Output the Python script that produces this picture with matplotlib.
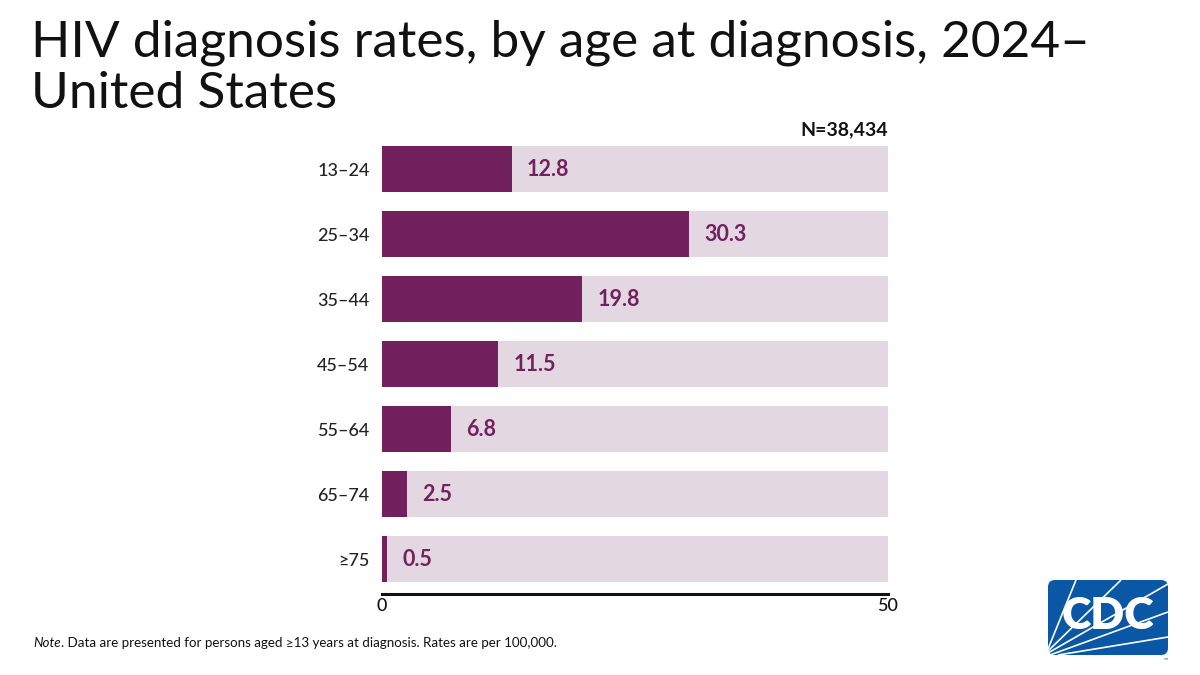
import matplotlib
matplotlib.use("Agg")
import matplotlib.pyplot as plt
from matplotlib.patches import FancyBboxPatch
import numpy as np

plt.rcParams['font.family'] = ['Lato', 'DejaVu Sans']

categories = ["13–24", "25–34", "35–44", "45–54", "55–64", "65–74", "≥75"]
rates = [12.8, 30.3, 19.8, 11.5, 6.8, 2.5, 0.5]
labels = ["12.8", "30.3", "19.8", "11.5", "6.8", "2.5", "0.5"]
xmax = 50
xticks = [0, 50]
total_label = "N=38,434"

bar_color = "#72215E"
bg_color = "#E3D8E1"

fig = plt.figure(figsize=(12, 6.75), dpi=100)

# Title
title_kw = dict(fontsize=37, color="#111111", ha="left", va="baseline")
fig.text(31/1200, 1 - 57/675, "HIV diagnosis rates, by age at diagnosis, 2024–", **title_kw)
fig.text(31/1200, 1 - 108/675, "United States", **title_kw)

ax = fig.add_axes([382/1200, 1 - 594/675, (888 - 382)/1200, (594 - 136.5)/675])
y = np.arange(len(categories))
ax.barh(y, [xmax]*len(categories), height=0.72, color=bg_color, zorder=1)
ax.barh(y, rates, height=0.72, color=bar_color, zorder=2)
for yi, v, lab in zip(y, rates, labels):
    ax.annotate(lab, (v, yi), xytext=(11, 0), textcoords="offset points",
                ha="left", va="center", fontsize=15.5, fontweight="bold",
                color=bar_color, zorder=3)

ax.set_xlim(0, xmax)
ax.set_ylim(len(categories) - 0.5 + 2.5/65, -0.5)
ax.set_yticks(y)
ax.set_yticklabels(categories, fontsize=13, color="#222222", fontweight="medium")
ax.set_xticks(xticks)
ax.set_xticklabels([str(t) for t in xticks], fontsize=13, color="#111111",
                   fontweight="medium")
ax.tick_params(axis="both", length=0)
ax.tick_params(axis="y", pad=9)
ax.tick_params(axis="x", pad=3)
for s in ["top", "right", "left"]:
    ax.spines[s].set_visible(False)
ax.spines["bottom"].set_linewidth(2.2)
ax.spines["bottom"].set_color("#111111")

fig.text(888/1200, 1 - 135/675, total_label, fontsize=14, fontweight="bold",
         color="#111111", ha="right", va="baseline")

# Note
note_size = 9.6
note = fig.text(33/1200, 1 - 647/675, "Note", fontsize=note_size, style="italic",
                color="#111111", ha="left", va="baseline")
fig.canvas.draw()
bb = note.get_window_extent()
fig.text(bb.x1/1200, 1 - 647/675,
         ". Data are presented for persons aged ≥13 years at diagnosis. Rates are per 100,000.",
         fontsize=note_size, color="#111111", ha="left", va="baseline")

# CDC logo
lax = fig.add_axes([1046/1200, 1 - 657/675, 124/1200, 79/675])
lax.set_xlim(0, 124)
lax.set_ylim(0, 79)
lax.axis("off")
lax.add_patch(FancyBboxPatch((2, 2), 120, 75, boxstyle="round,pad=0,rounding_size=7",
                             facecolor="#0A57A5", edgecolor="none"))
for (x0, y0, x1, y1) in [(2, 8, 30, 77), (2, 6, 75, 77), (2, 4, 122, 73),
                         (4, 2, 122, 45), (12, 2, 122, 20)]:
    lax.plot([x0, x1], [y0, y1], color="white", lw=1.2, solid_capstyle="butt")
lax.text(62, 41, "CDC", fontsize=32, fontweight="heavy", color="white",
         ha="center", va="center", family=["Lato", "DejaVu Sans"])
lax.text(120, 0, "™", fontsize=4, color="#0A57A5", ha="center", va="top")

fig.savefig("out.png", dpi=100)
